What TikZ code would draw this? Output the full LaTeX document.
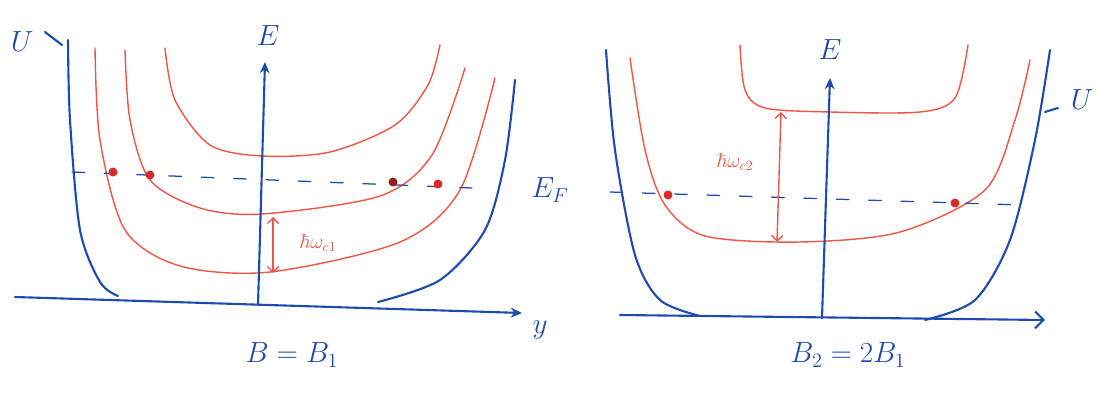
\documentclass[tikz,border=0pt]{standalone}
\usepackage{amsmath,amssymb}
\usepackage{tikz}
\usetikzlibrary{arrows.meta}
\definecolor{penblue}{RGB}{30,75,175}
\definecolor{penred}{RGB}{240,85,70}
\definecolor{dotred}{RGB}{215,45,40}

\begin{document}
\begin{tikzpicture}[x=0.025cm, y=-0.025cm, line width=1.1pt, line cap=round,
  pot/.style={penblue, line width=1.5pt},
  lvl/.style={penred, line width=1pt},
  axis/.style={penblue, line width=1.5pt, -{Stealth[length=8pt, width=7pt]}},
  fermi/.style={penblue, line width=0.9pt, dash pattern=on 9pt off 14pt},
  gap/.style={penred, line width=1pt, {Straight Barb[length=4pt]}-{Straight Barb[length=4pt]}},
  lab/.style={penblue, font=\huge, inner sep=1pt},
  occ/.style={fill=dotred, draw=none}]
\useasboundingbox (0,0) rectangle (1106,394);
% ---- left panel, B = B_1
\draw[pot] (45,32) -- (62,45);
\draw[pot] plot[smooth] coordinates {(68,40) (70,120) (80,230) (100,282) (118,296)};
\draw[pot] plot[smooth] coordinates {(378,302) (440,280) (485,230) (505,160) (515,80)};
\draw[lvl] plot[smooth] coordinates {(165,48) (175,100) (210,145) (262,156) (330,152) (395,125) (428,85) (440,45)};
\draw[lvl] plot[smooth] coordinates {(125,50) (130,120) (150,180) (200,208) (262,214) (380,196) (432,155) (465,68)};
\draw[lvl] plot[smooth] coordinates {(95,48) (100,140) (125,230) (180,266) (270,272) (400,242) (460,190) (495,78)};
\draw[fermi] (72,172) -- (472,188);
\foreach \px/\py in {113/172, 150/175, 438/184}
  \fill[occ] (\px,\py) circle (4.5);
\fill[dotred!70!black] (393,182) circle (4.5);
\draw[axis] (15,297) -- (522,313);
\draw[axis] (258,305) -- (265,62);
\node[lab] (U1) at (22,42) {$U$};
\node[lab] (E1) at (268,36) {$E$};
\node[lab] (Y1) at (540,330) {$y$};
\coordinate (g1top) at (273,217);
\coordinate (g1bot) at (273,273);
\draw[gap] (g1top) -- (g1bot);
\node[penred, font=\Large, inner sep=1pt] (w1) at (318,243) {$\hbar\omega_{c1}$};
\node[lab] (B1) at (292,355) {$B = B_1$};
% ---- right panel, B_2 = 2 B_1
\draw[pot] plot[smooth] coordinates {(606,50) (615,150) (635,255) (660,300) (700,316)};
\draw[pot] plot[smooth] coordinates {(925,320) (975,300) (1010,240) (1035,140) (1050,50)};
\draw[pot] (1045,112) -- (1058,108);
\draw[lvl] plot[smooth] coordinates {(740,45) (745,90) (765,108) (830,112) (920,112) (955,98) (968,45)};
\draw[lvl] plot[smooth] coordinates {(630,58) (645,150) (665,205) (705,236) (800,242) (900,232) (985,190) (1015,120) (1030,60)};
\draw[fermi] (610,192) -- (1022,205);
\foreach \px/\py in {668/195, 955/203}
  \fill[occ] (\px,\py) circle (4.5);
\draw[penblue, line width=1.5pt, -{Straight Barb[length=6pt]}] (620,315) -- (1045,320);
\draw[axis] (822,318) -- (830,78);
\node[lab] (E2) at (830,50) {$E$};
\node[lab] (U2) at (1082,100) {$U$};
\node[lab] (EF) at (550,190) {$E_F$};
\coordinate (g2top) at (781,112);
\coordinate (g2bot) at (777,242);
\draw[gap] (g2top) -- (g2bot);
\node[penred, font=\Large, inner sep=1pt] (w2) at (735,162) {$\hbar\omega_{c2}$};
\node[lab] (B2) at (848,355) {$B_2 = 2B_1$};
\end{tikzpicture}
\end{document}
